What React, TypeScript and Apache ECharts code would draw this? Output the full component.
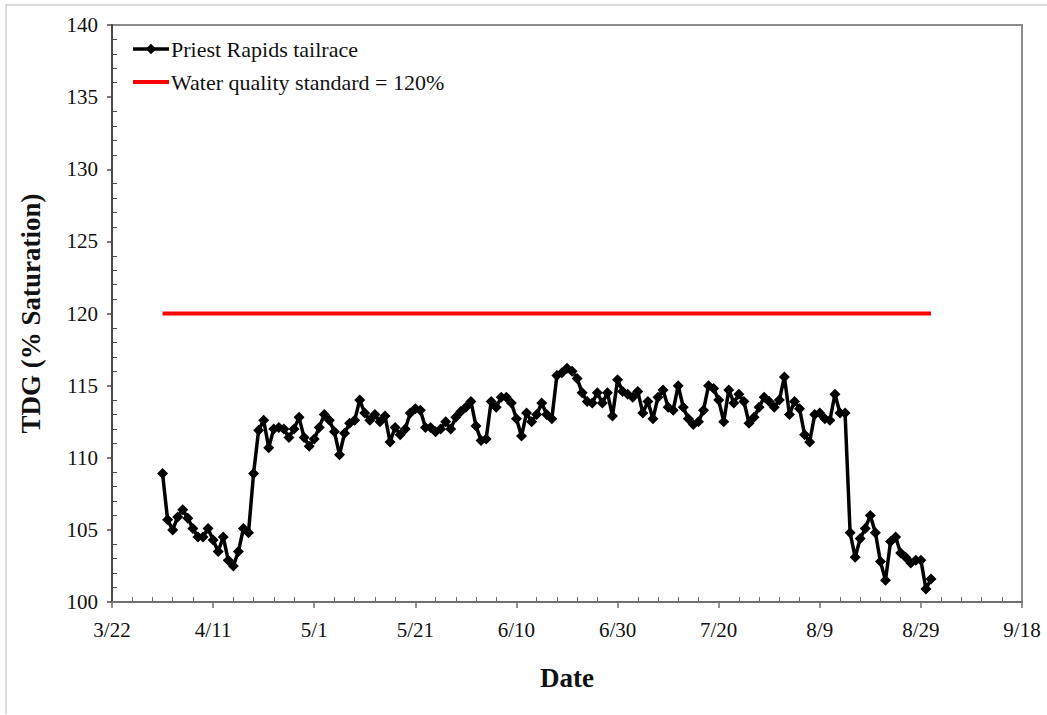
import React, { useEffect, useRef } from "react";
import * as echarts from "echarts";

// x is counted in days after 3/22
const axisStart = { month: 3, day: 22 };
const xMin = 0;
const xMax = 180;
const xStep = 20;
const yMin = 100;
const yMax = 140;
const yStep = 5;

// Daily TDG, 4/1 through 8/31 (4/1 = day 10)
const firstDay = 10;
const tdg = [
  108.9, 105.7, 105.0, 105.9, 106.4, 105.8, 105.1, 104.5, 104.5, 105.1,
  104.3, 103.5, 104.5, 102.9, 102.5, 103.5, 105.1, 104.8, 108.9, 111.9,
  112.6, 110.7, 112.0, 112.1, 112.0, 111.4, 112.0, 112.8, 111.4, 110.8,
  111.3, 112.1, 113.0, 112.6, 111.8, 110.2, 111.7, 112.4, 112.6, 114.0,
  113.1, 112.6, 113.0, 112.5, 112.9, 111.1, 112.1, 111.6, 112.0, 113.1,
  113.4, 113.3, 112.1, 112.1, 111.8, 112.0, 112.5, 112.0, 112.8, 113.2,
  113.5, 113.9, 112.2, 111.2, 111.3, 113.9, 113.5, 114.2, 114.2, 113.8,
  112.7, 111.5, 113.1, 112.5, 113.0, 113.8, 113.0, 112.7, 115.7, 115.9,
  116.2, 116.0, 115.5, 114.5, 113.9, 113.8, 114.5, 113.8, 114.5, 112.9,
  115.4, 114.6, 114.4, 114.2, 114.6, 113.1, 113.9, 112.7, 114.2, 114.7,
  113.5, 113.3, 115.0, 113.5, 112.7, 112.3, 112.5, 113.3, 115.0, 114.8,
  114.0, 112.5, 114.7, 113.8, 114.4, 113.9, 112.4, 112.8, 113.5, 114.2,
  113.9, 113.5, 114.0, 115.6, 113.0, 113.9, 113.4, 111.6, 111.1, 113.0,
  113.1, 112.7, 112.6, 114.4, 113.1, 113.1, 104.8, 103.1, 104.4, 105.1,
  106.0, 104.8, 102.8, 101.5, 104.2, 104.5, 103.4, 103.1, 102.7, 102.9,
  102.9, 100.9, 101.6,
];

const standardLevel = 120;
const standardStartDay = 10; // 4/1
const standardEndDay = 162; // 8/31

const seriesNames = ["Priest Rapids tailrace", "Water quality standard = 120%"];
const xTitle = "Date";
const yTitle = "TDG (% Saturation)";

const FONT = "'Liberation Serif', 'Times New Roman', serif";

function dayLabel(v: number): string {
  const base = Date.UTC(2011, axisStart.month - 1, axisStart.day);
  const d = new Date(base + Math.round(v) * 86400000);
  return `${d.getUTCMonth() + 1}/${d.getUTCDate()}`;
}

export default function App() {
  const ref = useRef<HTMLDivElement>(null);

  useEffect(() => {
    if (!ref.current) return;
    const chart = echarts.init(ref.current, undefined, { renderer: "svg" });

    const lineData = tdg.map((v, i) => [firstDay + i, v]);
    const stdData = [
      [standardStartDay, standardLevel],
      [standardEndDay, standardLevel],
    ];

    chart.setOption({
      animation: false,
      backgroundColor: "#ffffff",
      textStyle: { fontFamily: FONT },
      grid: {
        left: 112,
        right: 25,
        top: 25,
        bottom: 113,
        show: true,
        borderColor: "#8c8c8c",
        borderWidth: 2,
        backgroundColor: "transparent",
      },
      legend: {
        orient: "vertical",
        left: 126,
        top: 33,
        itemGap: 11,
        itemWidth: 36,
        itemHeight: 13,
        textStyle: { fontFamily: FONT, fontSize: 22, color: "#111", padding: [0, 0, 0, -3] },
        data: [
          { name: seriesNames[0], lineStyle: { width: 3.5 } },
          { name: seriesNames[1], itemStyle: { opacity: 0 }, lineStyle: { width: 4 } },
        ],
      },
      xAxis: [
        {
          type: "value",
          min: xMin,
          max: xMax,
          interval: xStep,
          name: xTitle,
          nameLocation: "middle",
          nameGap: 62,
          nameTextStyle: {
            fontFamily: FONT,
            fontSize: 27,
            fontWeight: "bold",
            color: "#111",
          },
          axisLine: { show: true, lineStyle: { color: "#6f6f6f", width: 2 } },
          axisTick: { show: true, length: 6, lineStyle: { color: "#6f6f6f", width: 1.5 } },
          axisLabel: {
            formatter: (v: number) => dayLabel(v),
            fontFamily: FONT,
            fontSize: 21,
            color: "#111",
            margin: 17,
            showMinLabel: true,
            showMaxLabel: true,
          },
          splitLine: { show: false },
        },
        {
          type: "value",
          min: xMin,
          max: xMax,
          interval: xStep,
          position: "bottom",
          axisLine: { show: false },
          axisTick: { show: false, inside: true },
          minorTick: { show: true, splitNumber: 5, length: 5, lineStyle: { color: "#6f6f6f", width: 1 } },
          axisLabel: { show: false },
          splitLine: { show: false },
        },
      ],
      yAxis: [
        {
          type: "value",
          min: yMin,
          max: yMax,
          interval: yStep,
          name: yTitle,
          nameLocation: "middle",
          nameGap: 68,
          nameRotate: 90,
          nameTextStyle: {
            fontFamily: FONT,
            fontSize: 27,
            fontWeight: "bold",
            color: "#111",
          },
          axisLine: { show: true, lineStyle: { color: "#4a4a4a", width: 2 } },
          axisTick: { show: true, length: 5, lineStyle: { color: "#4a4a4a", width: 1.5 } },
          axisLabel: {
            fontFamily: FONT,
            fontSize: 21,
            color: "#111",
            margin: 14,
          },
          splitLine: { show: false },
        },
        {
          type: "value",
          min: yMin,
          max: yMax,
          interval: yStep,
          position: "left",
          axisLine: { show: false },
          axisTick: { show: false, inside: true },
          minorTick: { show: true, splitNumber: 5, length: 5, lineStyle: { color: "#4a4a4a", width: 1 } },
          axisLabel: { show: false },
          splitLine: { show: false },
        },
      ],
      series: [
        {
          name: seriesNames[0],
          type: "line",
          xAxisIndex: 0,
          yAxisIndex: 0,
          data: lineData,
          symbol: "diamond",
          symbolSize: 11,
          showAllSymbol: true,
          lineStyle: { color: "#000000", width: 3.5 },
          itemStyle: { color: "#000000" },
          z: 3,
        },
        {
          name: seriesNames[1],
          type: "line",
          xAxisIndex: 0,
          yAxisIndex: 0,
          data: stdData,
          symbol: "none",
          lineStyle: { color: "#ff0000", width: 4 },
          itemStyle: { color: "#ff0000" },
          z: 2,
        },
      ],
      graphic: [
        {
          type: "polyline",
          silent: true,
          shape: { points: [[6, 714], [6, 5], [1047, 5]] },
          style: { stroke: "#d0d0d0", lineWidth: 1.5, fill: "none" },
        },
      ],
    });

    return () => chart.dispose();
  }, []);

  return (
    <div
      ref={ref}
      style={{ position: "fixed", left: 0, top: 0, width: 1047, height: 715, background: "#fff" }}
    />
  );
}
